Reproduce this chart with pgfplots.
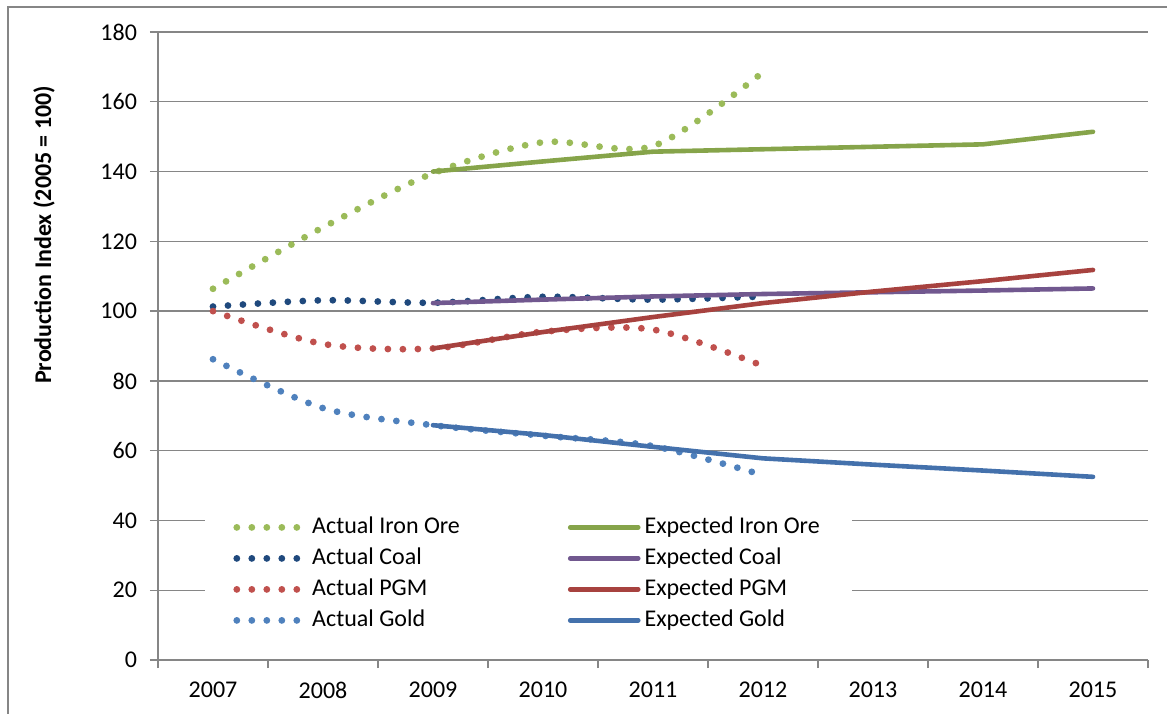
\documentclass[border=0pt]{standalone}
\usepackage{pgfplots}
\pgfplotsset{compat=1.18}
\usepackage{fontspec}
\setmainfont{Carlito}
\definecolor{gridgray}{HTML}{868686}
\definecolor{aIron}{HTML}{9BBB59}
\definecolor{eIron}{HTML}{86A44A}
\definecolor{aCoal}{HTML}{1F497D}
\definecolor{eCoal}{HTML}{71588F}
\definecolor{aPGM}{HTML}{C0504D}
\definecolor{ePGM}{HTML}{A7423F}
\definecolor{aGold}{HTML}{4F81BD}
\definecolor{eGold}{HTML}{4471AC}
\begin{document}
\begin{tikzpicture}
\path[use as bounding box] (-79pt,-26.5pt) rectangle (504.5pt,330pt);
\draw[gridgray, line width=0.8pt] (-75pt,-40pt) -- (-75pt,326.5pt) -- (520pt,326.5pt);
\begin{axis}[
  scale only axis, width=495pt, height=314pt,
  xmin=-0.5, xmax=8.5, ymin=0, ymax=180,
  axis x line*=bottom, axis y line*=left,
  axis line style={gridgray, line width=0.7pt},
  xtick={-0.5,0.5,...,8.5}, xticklabels={},
  extra x ticks={0,1,2,3,4,5,6,7,8},
  extra x tick labels={2007,2008,2009,2010,2011,2012,2013,2014,2015},
  extra x tick style={major tick length=0pt, xticklabel style={yshift=-7.5pt}},
  ytick={0,20,...,180},
  /pgf/number format/assume math mode=true,
  tick align=outside, major tick length=4pt,
  tick style={gridgray, line width=0.7pt},
  ymajorgrids, grid style={gridgray, line width=0.7pt},
  every tick label/.append style={font=\fontsize{12}{14}\selectfont, text=black},
  yticklabel style={xshift=-3pt},
  ylabel={Production Index (2005 = 100)},
  ylabel style={at={(axis description cs:-0.1152,0.677)}, anchor=center, font=\fontsize{12}{14}\selectfont\bfseries},
  legend columns=2,
  legend cell align=left,
  legend style={at={(axis description cs:0.0475,0.2500)}, anchor=north west, draw=none, fill=white,
    font=\fontsize{12}{14}\selectfont, inner xsep=14pt, inner ysep=6pt, row sep=3.5pt,
    /tikz/column 2/.style={column sep=52pt},
    nodes={inner ysep=0pt, text height=9pt, text depth=3pt}},
  legend image code/.code={\draw[#1] (0pt,0pt) -- (34pt,0pt);},
  actual/.style={line width=3.4pt, line cap=round, dash pattern=on 0pt off 7.5pt, smooth},
  expected/.style={line width=2.3pt, line cap=round, line join=round},
]
\addplot[actual, aIron] coordinates {(0,106.4) (1,124.0) (2,139.5) (3,148.4) (4,147.3) (5,168.5)};
\addlegendentry{Actual Iron Ore}
\addplot[expected, eIron] coordinates {(2,140.0) (3,142.9) (4,145.7) (5,146.4) (6,147.1) (7,147.8) (8,151.4)};
\addlegendentry{Expected Iron Ore}
\addplot[actual, aCoal] coordinates {(0,101.3) (1,103.1) (2,102.4) (3,104.1) (4,103.3) (5,104.2)};
\addlegendentry{Actual Coal}
\addplot[expected, eCoal] coordinates {(2,102.3) (3,103.3) (4,104.2) (5,104.9) (6,105.4) (7,105.9) (8,106.5)};
\addlegendentry{Expected Coal}
\addplot[actual, aPGM] coordinates {(0,100.0) (1,90.6) (2,89.3) (3,94.1) (4,94.7) (5,84.3)};
\addlegendentry{Actual PGM}
\addplot[expected, ePGM] coordinates {(2,89.3) (3,94.0) (4,98.3) (5,102.3) (6,105.6) (7,108.6) (8,111.8)};
\addlegendentry{Expected PGM}
\addplot[actual, aGold] coordinates {(0,86.2) (1,72.2) (2,67.3) (3,64.3) (4,61.3) (5,53.0)};
\addlegendentry{Actual Gold}
\addplot[expected, eGold] coordinates {(2,67.3) (3,64.5) (4,61.1) (5,57.8) (6,56.0) (7,54.3) (8,52.5)};
\addlegendentry{Expected Gold}
\end{axis}
\end{tikzpicture}
\end{document}
